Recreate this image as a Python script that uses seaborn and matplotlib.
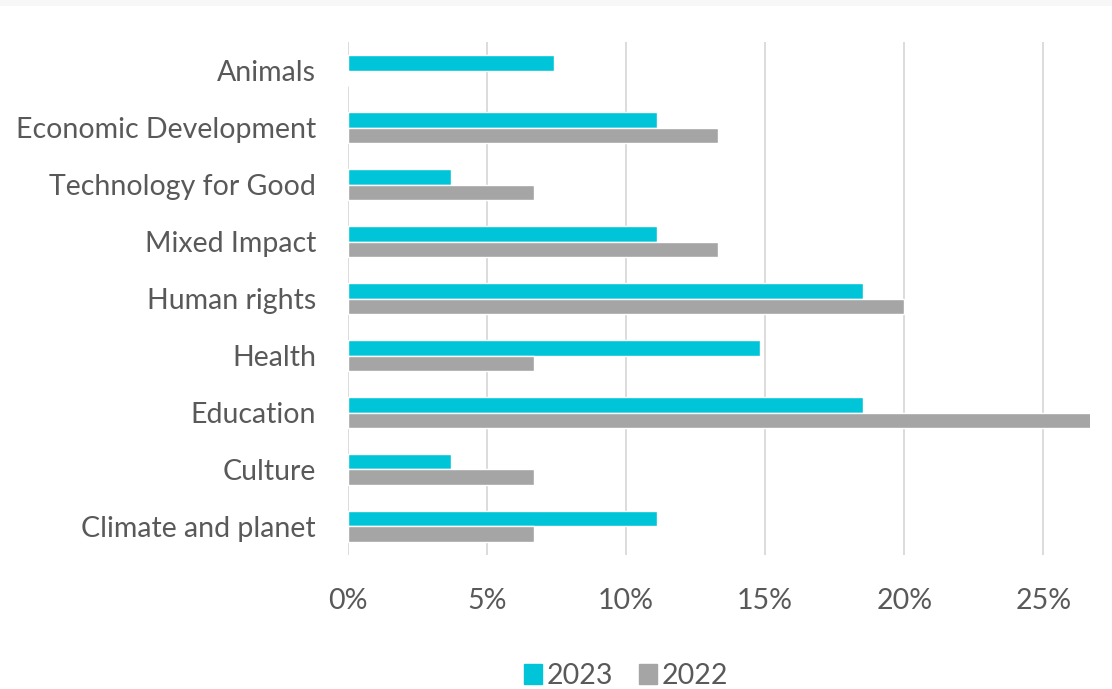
import matplotlib
matplotlib.use("Agg")
import matplotlib.pyplot as plt
import matplotlib.patches as mpatches
import seaborn as sns
import pandas as pd

categories = ["Animals", "Economic Development", "Technology for Good", "Mixed Impact",
              "Human rights", "Health", "Education", "Culture", "Climate and planet"]
values_2023 = [7.4, 11.1, 3.7, 11.1, 18.5, 14.8, 18.5, 3.7, 11.1]
values_2022 = [0.0, 13.3, 6.7, 13.3, 20.0, 6.7, 26.7, 6.7, 6.7]
series = ["2023", "2022"]
x_ticks = [0, 5, 10, 15, 20, 25]
x_tick_labels = ["0%", "5%", "10%", "15%", "20%", "25%"]

df = pd.DataFrame({
    "category": categories * 2,
    "value": values_2023 + values_2022,
    "year": [series[0]] * len(categories) + [series[1]] * len(categories),
})

sns.set_style("white")
plt.rcParams['font.family'] = ['Lato', 'DejaVu Sans']
text_color = "#595959"
colors = {"2023": "#00C5D8", "2022": "#A5A5A5"}

fig = plt.figure(figsize=(11.12, 6.89), dpi=100)
ax = fig.add_axes([0.313, 0.1945, 0.667, 0.7445])
fig.patches.append(mpatches.Rectangle((0, 1 - 6 / 689), 1, 6 / 689, transform=fig.transFigure,
                                      facecolor="#F7F7F7", edgecolor="none", zorder=0))

sns.barplot(data=df, x="value", y="category", hue="year", order=categories,
            hue_order=series, palette=colors, width=0.55, orient="h", ax=ax,
            legend=False, saturation=1)

ax.set_xlim(0, 26.67)
ax.set_ylim(len(categories) - 0.5, -0.5)
ax.set_xticks(x_ticks)
ax.set_xticklabels(x_tick_labels)
ax.grid(axis="x", color="#D9D9D9", linewidth=1.3)
ax.set_axisbelow(True)
for s in ax.spines.values():
    s.set_visible(False)
ax.set_xlabel("")
ax.set_ylabel("")
ax.tick_params(axis="both", length=0, labelsize=20.5, labelcolor=text_color)
ax.tick_params(axis="x", pad=24)
ax.tick_params(axis="y", pad=23)

handles = [mpatches.Patch(color=colors[s], label=s) for s in series]
fig.legend(handles=handles, loc="center", bbox_to_anchor=(0.563, 1 - 676 / 689), ncol=2,
           frameon=False, fontsize=20.5, labelcolor=text_color, handlelength=0.65,
           handleheight=0.65, handletextpad=0.15, columnspacing=0.9)

fig.savefig("out.png", dpi=100)
